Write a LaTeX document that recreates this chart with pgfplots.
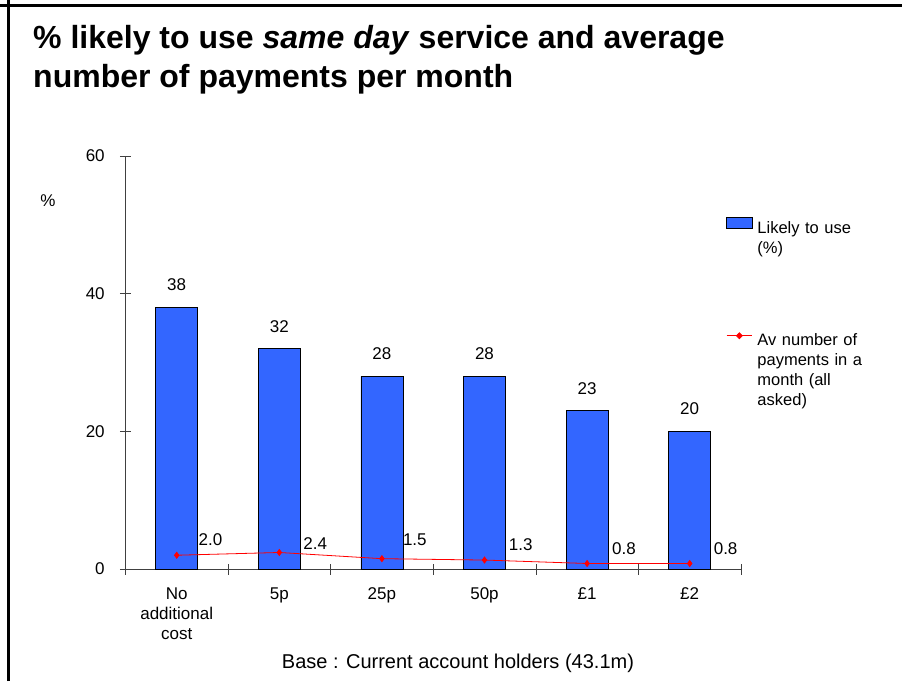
\documentclass[border=0pt]{standalone}
\usepackage{pgfplots}
\usepackage{pgfplotstable}
\pgfplotsset{compat=1.18}
\usepackage{fontspec}
\setmainfont{Liberation Sans}
\definecolor{barblue}{HTML}{3366FF}

\pgfplotstableread{
x y
0 38
1 32
2 28
3 28
4 23
5 20
}\bars

\pgfplotstableread{
x y dx dy
0 2.0 21.6 9.3
1 2.4 23.7 3.3
2 1.5 20.7 13.3
3 1.3 24.0 9.3
4 0.8 24.7 8.7
5 0.8 23.7 8.7
}\avg

\begin{document}
\begin{tikzpicture}
\useasboundingbox (0pt,0pt) rectangle (902pt,681pt);
% frame
\draw[line width=2.5pt] (0pt,675.5pt) -- (902pt,675.5pt);
\draw[line width=3pt] (8.5pt,0pt) -- (8.5pt,681pt);
% title
\node[anchor=base west, inner sep=0pt, font=\fontsize{32}{39}\selectfont\bfseries] at (33pt,632pt) {\% likely to use \textit{same day} service and average};
\node[anchor=base west, inner sep=0pt, font=\fontsize{32}{39}\selectfont\bfseries] at (33pt,593pt) {number of payments per month};
% base
\node[anchor=base, inner sep=0pt, font=\fontsize{20}{24}\selectfont] at (458pt,13pt) {Base : Current account holders (43.1m)};
\begin{axis}[
  at={(125.4pt,112pt)}, anchor=south west,
  scale only axis, width=615.6pt, height=413pt,
  xmin=-0.5, xmax=5.5, ymin=0, ymax=60,
  axis x line=bottom, axis y line=left,
  axis line style={-, black!75},
  tick align=center,
  major tick length=11pt, minor tick length=11pt,
  tick style={black!75, line width=0.6pt},
  xtick={0,...,5},
  xticklabels={{No\\additional\\cost},5p,25p,50p,\pounds1,\pounds2},
  major x tick style={draw=none},
  minor xtick={-0.5,0.5,...,5.5},
  ytick={0,20,40,60},
  xticklabel style={align=center, anchor=north, inner sep=0pt, yshift=-13pt, font=\fontsize{17}{20}\selectfont},
  yticklabel style={anchor=east, inner sep=0pt, xshift=-15pt, font=\fontsize{17}{18}\selectfont},
  /pgf/number format/assume math mode=true,
  clip=false,
  legend style={at={(rel axis cs:0.9756,0.853)}, anchor=north west, draw=none, fill=none, inner sep=0pt, row sep=97pt, column sep=5pt,
    nodes={inner sep=0pt, text width=110pt, align=left, font=\fontsize{16.5}{20}\selectfont}},
  legend cell align=left,
]
\addplot[ybar, bar width=42pt, fill=barblue, draw=black, line width=0.6pt,
  nodes near coords,
  every node near coord/.append style={anchor=base, inner sep=0pt, yshift=16.5pt, text=black, font=\fontsize{17}{18}\selectfont},
  legend image code/.code={\draw[fill=barblue, draw=black, line width=0.6pt] (0pt,0pt) rectangle (25.5pt,11.4pt);}
] table[x=x,y=y] {\bars};
\addlegendentry{Likely to use\\(\%)}
\addplot[red, line width=0.8pt, mark=diamond*, mark size=3pt, mark options={fill=red, draw=red},
  visualization depends on={\thisrow{dx} \as \dx},
  visualization depends on={\thisrow{dy} \as \dy},
  nodes near coords,
  /pgf/number format/.cd, fixed, fixed zerofill, precision=1, /pgfplots/.cd,
  every node near coord/.append style={anchor=base west, inner sep=0pt, xshift=\dx pt, yshift=\dy pt, text=black, font=\fontsize{17}{18}\selectfont},
  legend image code/.code={\draw[red, line width=0.8pt] (0pt,5pt) -- (25.5pt,5pt); \fill[red] (12.75pt,5pt) +(0,3pt) -- +(3pt,0) -- +(0,-3pt) -- +(-3pt,0) -- cycle;}
] table[x=x,y=y] {\avg};
\addlegendentry{Av number of\\payments in a\\month (all\\asked)}
\end{axis}
% y label
\node[font=\fontsize{17}{18}\selectfont] at (48pt,480pt) {\%};
\end{tikzpicture}
\end{document}
